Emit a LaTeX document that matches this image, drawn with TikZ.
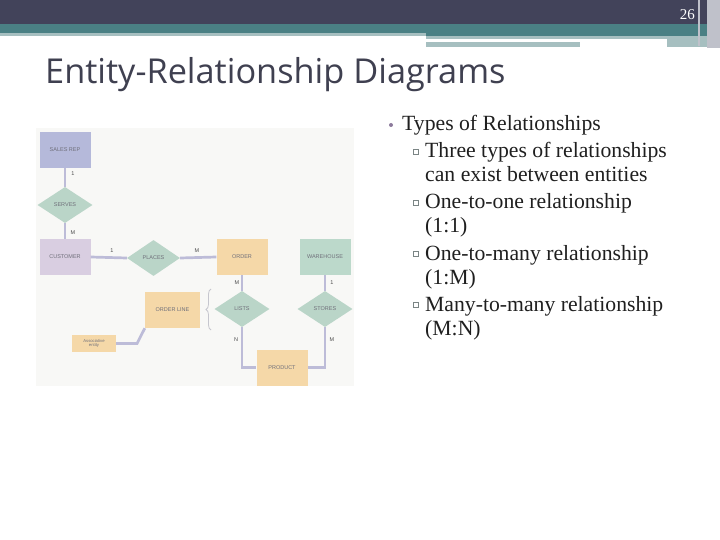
\documentclass[tikz,border=0pt]{standalone}
\usepackage{fontspec}
\setmainfont{Liberation Serif}
\newfontfamily\titlefont{Open Sans}
\newfontfamily\erfont{Liberation Sans}
\usepackage{tikz}
\usepackage{xcolor}
\usetikzlibrary{calc,shapes.geometric,decorations.pathreplacing}

\definecolor{headdark}{HTML}{42435A}
\definecolor{headteal}{HTML}{4A8084}
\definecolor{headlight}{HTML}{A6BFC0}
\definecolor{headside}{HTML}{BFC1CA}
\definecolor{titlegray}{HTML}{3F4050}
\definecolor{repblue}{HTML}{B5B9DA}
\definecolor{custpurple}{HTML}{D9CEE1}
\definecolor{ordorange}{HTML}{F5D8A8}
\definecolor{whgreen}{HTML}{BCD9CB}
\definecolor{relgreen}{HTML}{BAD5C8}
\definecolor{linkblue}{HTML}{BDBCD8}
\definecolor{ertext}{HTML}{6F6F7A}
\definecolor{erbg}{HTML}{F8F8F6}
\definecolor{bracegray}{HTML}{C6C6CE}
\definecolor{dotpurple}{HTML}{8C7A9C}
\definecolor{sqgray}{HTML}{7B8585}

\begin{document}
\begin{tikzpicture}[x=1pt,y=-1pt]
        \useasboundingbox (0,0) rectangle (720,540);
        \tikzstyle{entity}=[rectangle,minimum width=51pt,minimum height=36pt,inner sep=0pt,font=\erfont\fontsize{5.5}{6}\selectfont,text=ertext]
        \tikzstyle{relation}=[diamond,minimum width=55pt,minimum height=36pt,inner sep=0pt,fill=relgreen,font=\erfont\fontsize{5.5}{6}\selectfont,text=ertext]
        \tikzstyle{card}=[inner sep=0pt,font=\erfont\fontsize{5.5}{6}\selectfont,text=black!70]
        \tikzstyle{link}=[draw=linkblue,line width=2.7pt]
        \tikzstyle{bodytext}=[anchor=base west,inner sep=0pt,font=\fontsize{21.7}{24}\selectfont,text=black!88]
        \tikzstyle{subsq}=[draw=sqgray,line width=0.6pt,minimum size=4.5pt,inner sep=0pt]

            % header bands
            \fill[headdark] (0,0) rectangle (720,24);
            \fill[headteal] (0,24) rectangle (720,38);
            \fill[headlight] (0,33) rectangle (426,36);
            \fill[white] (0,36) rectangle (426,38);
            \fill[headlight] (426,36) rectangle (707,47);
            \fill[white] (426,39) rectangle (667,42);
            \fill[white] (580,42) rectangle (667,47);
            \fill[headside] (707,0) rectangle (720,48);
            \draw[headside,line width=1.5pt] (699,0) -- (699,46);
            \node[anchor=base east,inner sep=0pt,text=white,font=\fontsize{15}{15}\selectfont] (pagenum) at (695,20) {26};

            % title
            \node[anchor=base west,inner sep=0pt,text=titlegray,font=\titlefont\fontsize{34.3}{34}\selectfont] (title) at (45,84) {Entity-Relationship Diagrams};

            % bullet text
            \fill[dotpurple] (391,125) circle (2pt);
            \node[bodytext] (types) at (402,131) {Types of Relationships};
            \node[subsq] (sq1) at (416,152) {};
            \node[bodytext] (three) at (425,158) {Three types of relationships};
            \node[bodytext] (exist) at (425,182) {can exist between entities};
            \node[subsq] (sq2) at (416,203) {};
            \node[bodytext] (onetoone) at (425,209) {One-to-one relationship};
            \node[bodytext] (ratio1) at (425,233) {(1:1)};
            \node[subsq] (sq3) at (416,254) {};
            \node[bodytext] (onetomany) at (425,260) {One-to-many relationship};
            \node[bodytext] (ratio2) at (425,284) {(1:M)};
            \node[subsq] (sq4) at (416,305) {};
            \node[bodytext] (manytomany) at (425,311) {Many-to-many relationship};
            \node[bodytext] (ratio3) at (425,335) {(M:N)};

            % diagram
            \fill[erbg] (36,128) rectangle (354,386);
            \node[entity,fill=repblue] (salesrep) at (65,150) {SALES REP};
            \node[relation] (serves) at (65,205) {SERVES};
            \node[entity,fill=custpurple] (customer) at (65,257) {CUSTOMER};
            \node[relation,minimum width=53pt] (places) at (153.5,258) {PLACES};
            \node[entity,fill=ordorange] (order) at (242,257) {ORDER};
            \node[entity,fill=whgreen] (warehouse) at (325,257) {WAREHOUSE};
            \node[relation] (lists) at (242,309) {LISTS};
            \node[relation] (stores) at (325,309) {STORES};
            \node[entity,fill=ordorange,minimum width=55pt] (orderline) at (172.5,310) {ORDER LINE};
            \node[entity,fill=ordorange] (product) at (282,367.5) {PRODUCT};
            \node[entity,fill=ordorange,minimum width=44pt,minimum height=17pt,align=center,font=\erfont\fontsize{4.2}{4.8}\selectfont] (assoc) at (94,343.5) {Associative\\entity};
            \coordinate (assocbend) at (137,343.5);

            \draw[link] (salesrep.south) -- (serves.north);
            \draw[link] (serves.south) -- (customer.north);
            \draw[link] (customer.east) -- (places.west);
            \draw[link] (places.east) -- (order.west);
            \draw[link] (order.south) -- (lists.north);
            \draw[link] (warehouse.south) -- (stores.north);
            \draw[link] (lists.south) |- (product.west);
            \draw[link] (stores.south) |- (product.east);
            \draw[link] (assoc.east) -- (assocbend) -- (orderline.south west);
            \draw[bracegray,line width=0.8pt,decorate,decoration={brace,amplitude=5pt}] (211,330) -- (211,289);

            \node[card] (c1) at (73,174) {1};
            \node[card] (c2) at (73,233) {M};
            \node[card] (c3) at (112,251) {1};
            \node[card] (c4) at (197,251) {M};
            \node[card] (c5) at (237,283) {M};
            \node[card] (c6) at (332,283) {1};
            \node[card] (c7) at (236,340) {N};
            \node[card] (c8) at (332,340) {M};

        \end{tikzpicture}
\end{document}
